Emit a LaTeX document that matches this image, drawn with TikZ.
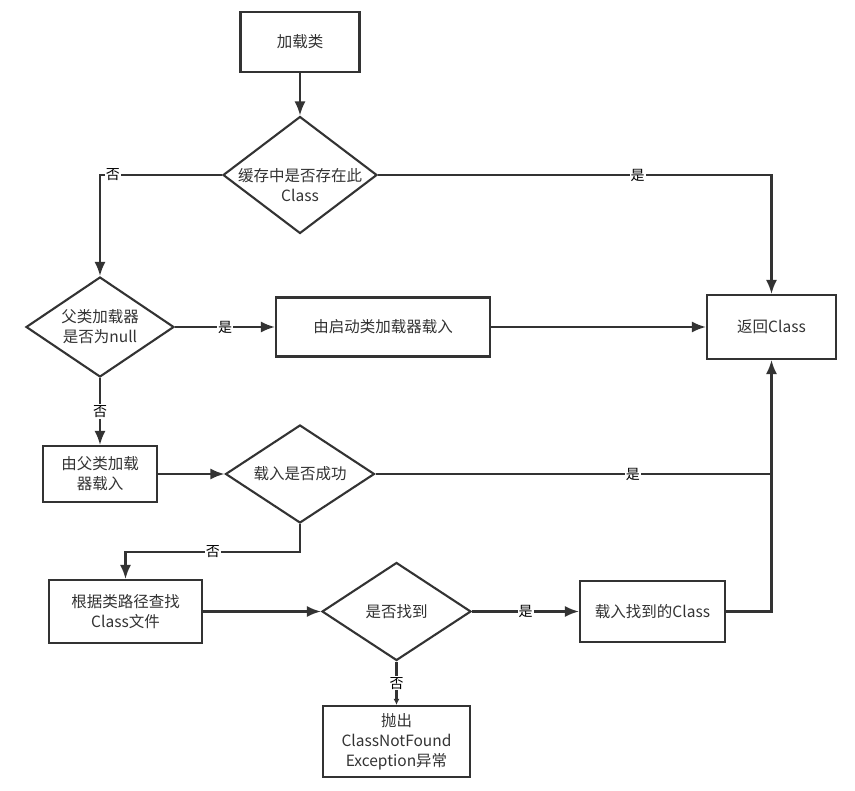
\documentclass[tikz,border=0pt]{standalone}
\usepackage{fontspec}
\setmainfont{Noto Sans CJK SC}
\usepackage{xcolor}
\usepackage{tikz}
\usetikzlibrary{shapes.geometric, arrows.meta}

\definecolor{linegray}{HTML}{333333}

\tikzset{
  box/.style={draw=linegray, text=linegray, align=center, inner sep=2pt},
  choice/.style={diamond, draw=linegray, text=linegray, align=center, inner sep=-20pt, shape aspect=1},
  yesno/.style={fill=white, inner sep=1pt, text=black, font=\fontsize{14}{16}\selectfont},
}

\begin{document}
\begin{tikzpicture}[x=1pt, y=-1pt, >={Latex[length=14pt,width=11pt]}, line width=2.1pt, color=linegray, font=\fontsize{15.5}{20}\selectfont]
    % Nền
    \fill[white] (0,0) rectangle (855,791);
    \useasboundingbox (0,0) rectangle (855,791);

    % Các khối
    \node[box, minimum width=119, minimum height=60] (load) at (300,42) {加载类};
    \node[choice, minimum width=154, minimum height=117, text height=53pt, text depth=0pt] (cache) at (300,175) {缓存中是否存在此\\Class};
    \node[choice, minimum width=148, minimum height=100] (parent) at (100,327) {父类加载器\\是否为null};
    \node[box, minimum width=214, minimum height=59] (boot) at (383,327) {由启动类加载器载入};
    \node[box, minimum width=129, minimum height=64] (ret) at (771.5,327) {返回Class};
    \node[box, minimum width=114, minimum height=56] (byparent) at (100,474) {由父类加载\\器载入};
    \node[choice, minimum width=149, minimum height=98] (ok) at (300,474) {载入是否成功};
    \node[box, minimum width=153, minimum height=63] (search) at (125.5,611.5) {根据类路径查找\\Class文件};
    \node[choice, minimum width=149, minimum height=98] (found) at (396.5,611.5) {是否找到};
    \node[box, minimum width=145, minimum height=61] (define) at (652.5,611.5) {载入找到的Class};
    \node[box, minimum width=147, minimum height=71] (throw) at (396.5,741.5) {抛出\\ClassNotFound\\Exception异常};

    % Các mũi tên
    \draw[->] (load) -- (cache);
    \draw[->] (cache.west) -| node[yesno, pos=0.447] {否} (parent.north);
    \draw[->] (cache.east) -| node[yesno, pos=0.33] {是} (ret.north);
    \draw[->] (parent) -- node[yesno] {是} (boot);
    \draw[->] (boot) -- (ret);
    \draw[->] (parent) -- node[yesno] {否} (byparent);
    \draw[->] (byparent) -- (ok);
    \draw (ok.east) -- node[yesno, pos=0.65] {是} (ok.east -| ret.south);
    \draw[->] (ok.south) -- ++(0,28) -| node[yesno, pos=0.25] {否} (search.north);
    \draw[->] (search) -- (found);
    \draw[->] (found) -- node[yesno] {是} (define);
    \draw[->] (define.east) -| (ret.south);
    \draw[->, >={Latex[length=6pt,width=6pt]}] (found) -- node[yesno] {否} (throw);
\end{tikzpicture}
\end{document}
